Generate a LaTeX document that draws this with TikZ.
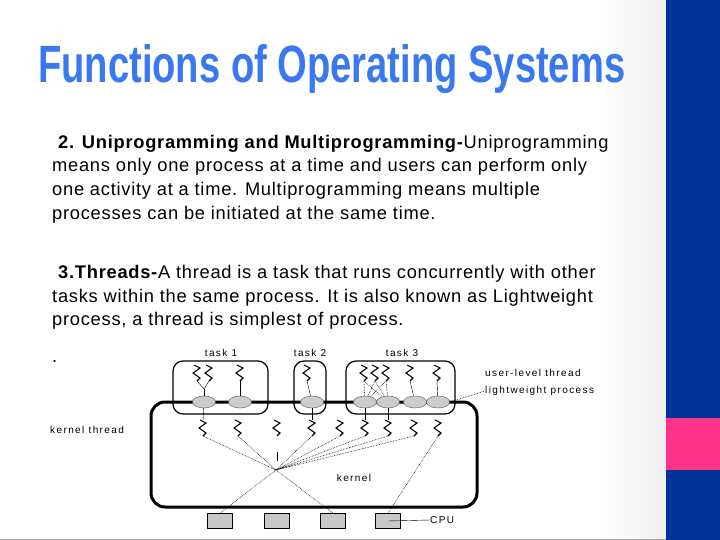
\documentclass[tikz,border=0pt]{standalone}
\usepackage{fontspec}
\setmainfont{Liberation Sans}
\usetikzlibrary{shapes.geometric}
\definecolor{titleblue}{HTML}{3A78F0}
\definecolor{barblue}{HTML}{003399}
\definecolor{barpink}{HTML}{FF3388}
\definecolor{cpugray}{HTML}{C8C8C8}
\tikzset{
  txt/.style={anchor=base west,inner sep=0,font=\fontsize{18.3}{20}\selectfont\addfontfeature{LetterSpace=4}},
  lbl/.style={inner sep=0,font=\fontsize{10}{11}\selectfont\addfontfeature{LetterSpace=14}},
  lwp/.style={ellipse,draw=gray!70!black,fill=gray!40,minimum width=23pt,minimum height=12pt,inner sep=0},
  cpubox/.style={draw,thick,fill=cpugray,minimum width=25pt,minimum height=15pt,inner sep=0},
  taskbox/.style={draw,line width=1.2pt,rounded corners=10pt},
  dots/.style={densely dotted,line width=0.6pt},
  zz/.style={line width=1.1pt}
}
\newcommand{\zig}[3]{\coordinate (#1) at (#2,#3);
  \draw[zz] (#2-3,#3-8) -- (#2+3,#3-5) -- (#2-4,#3) -- (#2+3,#3+5) -- (#2,#3+8);
  \coordinate (#1b) at (#2,#3+8);\coordinate (#1t) at (#2,#3-8);}
\begin{document}
\begin{tikzpicture}[x=1pt,y=-1pt]
\useasboundingbox (0,0) rectangle (720,540);
\fill[white] (0,0) rectangle (666,540);
\shade[left color=white,right color=gray!12] (600,0) rectangle (666,540);
\fill[barblue] (666,0) rectangle (720,540);
\fill[barpink] (666,418) rectangle (720,470);
\draw[gray!70] (0,539.5) -- (666,539.5);
\node[inner sep=0,anchor=north west,text=titleblue] (title) at (38,44)
  {\resizebox{587pt}{38pt}{\bfseries Functions of Operating Systems}};
\node[txt] (l1) at (58,149) {\textbf{2. Uniprogramming and Multiprogramming-}Uniprogramming};
\node[txt] (l2) at (52,172) {means only one process at a time and users can perform only};
\node[txt] (l3) at (52,196) {one activity at a time. Multiprogramming means multiple};
\node[txt] (l4) at (52,219) {processes can be initiated at the same time.};
\node[txt] (l5) at (58,278) {\textbf{3.Threads-}A thread is a task that runs concurrently with other};
\node[txt] (l6) at (52,302) {tasks within the same process. It is also known as Lightweight};
\node[txt] (l7) at (52,325) {process, a thread is simplest of process.};
\node[txt] (dot) at (52,362) {.};
% boxes
\draw[taskbox] (173,361) rectangle (268,414);
\draw[taskbox] (294,361) rectangle (326,414);
\draw[taskbox] (346,361) rectangle (455,414);
\draw[line width=3pt,rounded corners=14pt] (151,402) -- (151,507) -- (477,507) -- (477,402) -- cycle;
\node[lbl] (t1) at (221,353) {task 1};
\node[lbl] (t2) at (310,353) {task 2};
\node[lbl] (t3) at (402,353) {task 3};
% user threads
\zig{u1}{197}{373}\zig{u2}{209}{373}\zig{u3}{240}{373}\zig{u4}{307}{373}
\zig{u5}{364}{373}\zig{u6}{375}{373}\zig{u7}{386}{373}\zig{u8}{410}{373}\zig{u9}{437}{373}
% kernel threads
\zig{k1}{203}{428}\zig{k2}{238}{428}\zig{k3}{277}{428}\zig{k4}{312}{428}\zig{k5}{340}{428}
\zig{k6}{365}{428}\zig{k7}{388}{428}\zig{k8}{414}{428}\zig{k9}{438}{428}
% LWPs
\foreach \n/\x in {1/204,2/240,3/312,4/365,5/388,6/415,7/438}{\node[lwp] (p\n) at (\x,402) {};}
\coordinate (y1) at (204,389);
\draw (u1b) -- (y1) -- (u2b); \draw (y1) -- (p1);
\draw (u3b) -- (p2); \draw (u4b) -- (p3);
\draw[dots] (u5b) -- (p4) (u5b) -- (p5) (u6b) -- (p4) (u6b) -- (p5) (u7b) -- (p4) (u7b) -- (p5);
\draw (u8b) -- (p6); \draw (u9b) -- (p7);
\draw (p1) -- (k1t); \draw (p3) -- (k4t); \draw (p4) -- (k6t); \draw (p5) -- (k7t);
% CPUs
\foreach \n/\x in {1/220,2/277,3/333,4/388}{\node[cpubox] (c\n) at (\x,521) {};}
\coordinate (f) at (276,470);
\draw[dots] (k1b) -- (f) (k2b) -- (f) (k4b) -- (f) (k5b) -- (f) (k6b) -- (f) (k7b) -- (f) (k8b) -- (f);
\draw[dots] (f) -- (c1.north) (f) -- (c3.north) (k9b) -- (c4.north);
\draw (277,452) -- (277,461);
% labels
\node[lbl,anchor=west] (ul) at (485,373) {user-level thread};
\node[lbl,anchor=west] (lp) at (485,391) {lightweight process};
\draw[dots] (p7.east) -- (lp.west);
\node[lbl,anchor=west] (kt) at (50,430) {kernel thread};
\node[lbl] (kn) at (354,478) {kernel};
\node[lbl,anchor=west] (cl) at (430,520) {CPU};
\draw (c4.center) -- (cl.west);
\end{tikzpicture}
\end{document}
